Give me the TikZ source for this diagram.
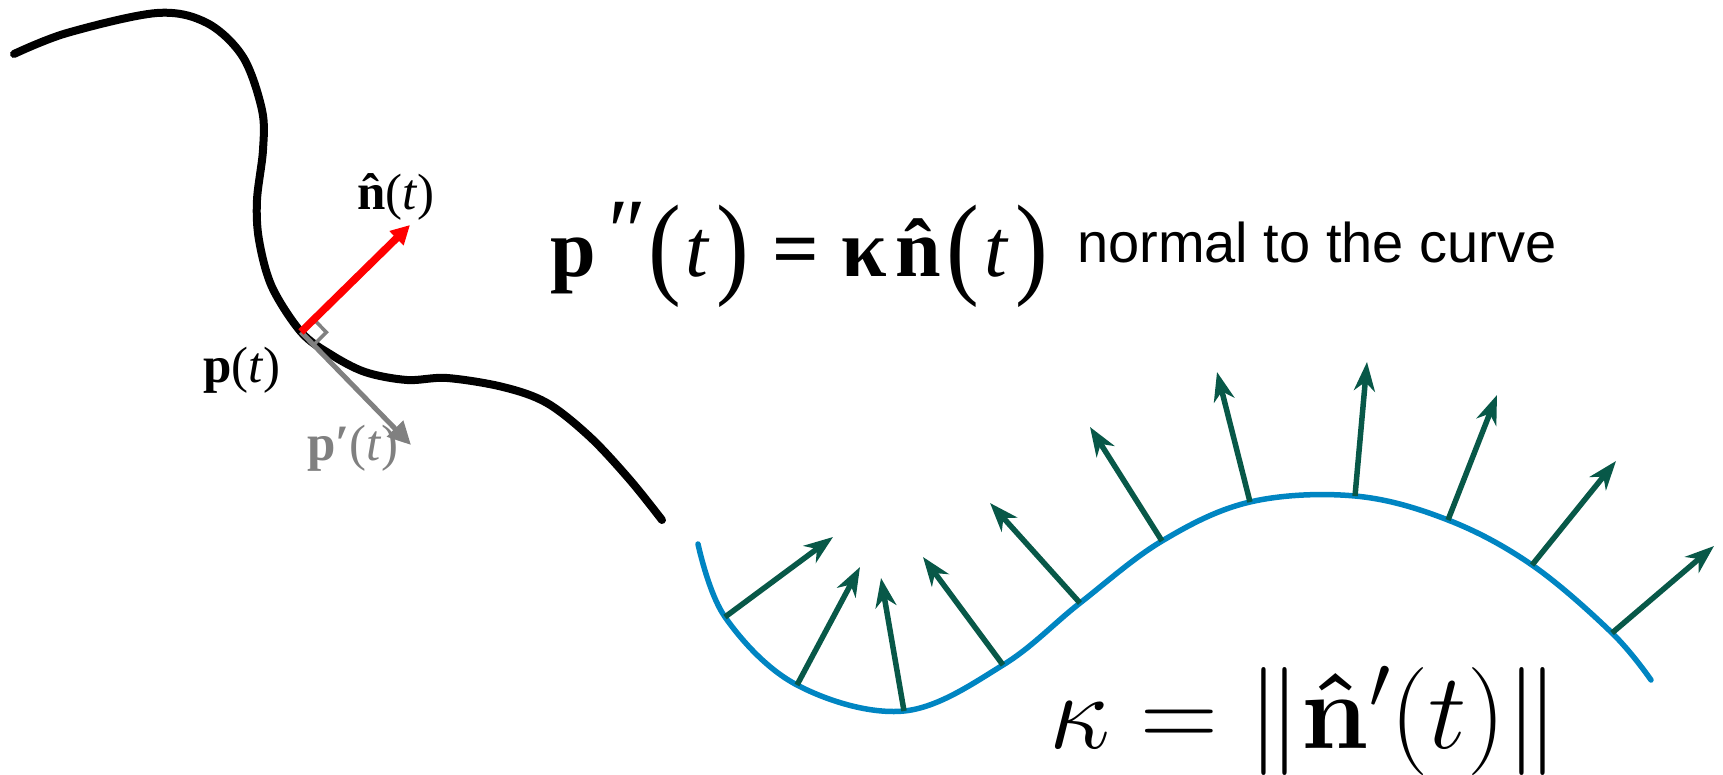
\documentclass[tikz,border=0pt]{standalone}
\usepackage{fix-cm}
\usepackage[no-math]{fontspec}
\usepackage{graphicx}
\newfontfamily\tms{Liberation Serif}
\newfontfamily\arl{Liberation Sans}
\usetikzlibrary{arrows.meta,calc}
\definecolor{tealarrow}{RGB}{8,88,72}
\definecolor{curveblue}{RGB}{0,133,194}
\definecolor{midgray}{RGB}{128,128,128}
\newcommand\bigparen[1]{\raisebox{-6pt}{\scalebox{1.2}[1.38]{#1}}}
\newcommand\hatbn{\sbox0{\textbf{n}}\rlap{\textbf{n}}\hbox to \wd0{\hss\textbf{^^^^02c6}\hss}}
\tikzset{
  blackcurve/.style={line width=8pt, line cap=round, line join=round},
  bluecurve/.style={curveblue, line width=5.5pt, line cap=round},
  normarrow/.style={tealarrow, line width=5.5pt, -{Stealth[length=29pt,width=21pt,inset=9pt]}},
  redarrow/.style={red, line width=7.5pt, -{Triangle[length=19pt,width=19pt]}},
  grayarrow/.style={midgray, line width=5pt, -{Triangle[length=23pt,width=22pt]}},
  timeslabel/.style={anchor=base, inner sep=0pt, font=\tms\fontsize{51}{56}\selectfont},
}
\begin{document}
\begin{tikzpicture}[x=1pt,y=-1pt]
\useasboundingbox (0,0) rectangle (1723,775);

% black curve
\draw[blackcurve] plot[smooth, tension=0.55] coordinates {
  (14,54) (67,33) (157,13) (207,23) (243,57) (262,110) (263,150)
  (257,200) (259,240) (272,287) (301,332) (330,354) (365,372)
  (407,380) (447,378) (503,387) (547,403) (590,437) (630,480) (662,520)};

\coordinate (P) at (301,332);
\coordinate (Ntip) at (410,225);
\coordinate (Ttip) at (411,445);

% right-angle mark
\coordinate (RA) at ($(P)!18pt!(Ntip)$);
\coordinate (RB) at ($(P)!18pt!(Ttip)$);
\draw[midgray, line width=3.5pt] (RA) -- ($(RA)+(RB)-(P)$) -- (RB);

\draw[grayarrow] (P) -- (Ttip);
\draw[redarrow] (P) -- (Ntip);

\node[timeslabel] (nlab) at (396,210) {\hatbn(\textit{t})};
\node[timeslabel] (plab) at (242,382) {\textbf{p}(\textit{t})};
\node[timeslabel, text=midgray] (pplab) at (353,460) {\textbf{p^^^^2032}(\textit{t})};

% big equation
\node[anchor=base west, inner sep=0pt, font=\tms\fontsize{82}{90}\selectfont] (eq) at (550,277)
  {\textbf{p}\hspace{7pt}\raisebox{14pt}{\fontsize{92}{92}\selectfont\itshape ^^^^2033}\hspace{7pt}\bigparen{(}\hspace{5pt}\textit{t}\hspace{6pt}\bigparen{)}\hspace{23pt}\textbf{=}\hspace{23pt}\textbf{κ}\hspace{8pt}\hatbn\hspace{6pt}\bigparen{(}\hspace{5pt}\textit{t}\hspace{6pt}\bigparen{)}};
\node[anchor=base west, inner sep=0pt, font=\arl\fontsize{56}{60}\selectfont] (note) at (1077,263) {normal to the curve};

% blue curve
\coordinate (s0) at (698,544);
\coordinate (s12) at (1651,680);
\foreach \i/\bx/\by/\tx/\ty in {
  1/725/617/833/537, 2/797/685/860/567, 3/904/711/881/578,
  4/1003/665/923/557, 5/1080/603/990/503, 6/1162/541/1090/427,
  7/1250/502/1217/372, 8/1355/496/1367/362, 9/1448/520/1497/395,
  10/1532/565/1616/461, 11/1612/633/1714/546}{
  \coordinate (b\i) at (\bx,\by);
  \coordinate (t\i) at (\tx,\ty);
}
\draw[bluecurve] plot[smooth, tension=0.6] coordinates {
  (s0) (b1) (b2) (b3) (b4) (b5) (b6) (b7) (b8) (b9) (b10) (b11) (s12)};
\foreach \i in {1,...,11}{
  \draw[normarrow] (b\i) -- (t\i);
}

\node[anchor=base west, inner sep=0pt, font=\fontsize{108}{115}\selectfont] (kap) at (1049,748)
  {$\kappa = \|\mathbf{\hat{n}}'(t)\|$};
\end{tikzpicture}
\end{document}
